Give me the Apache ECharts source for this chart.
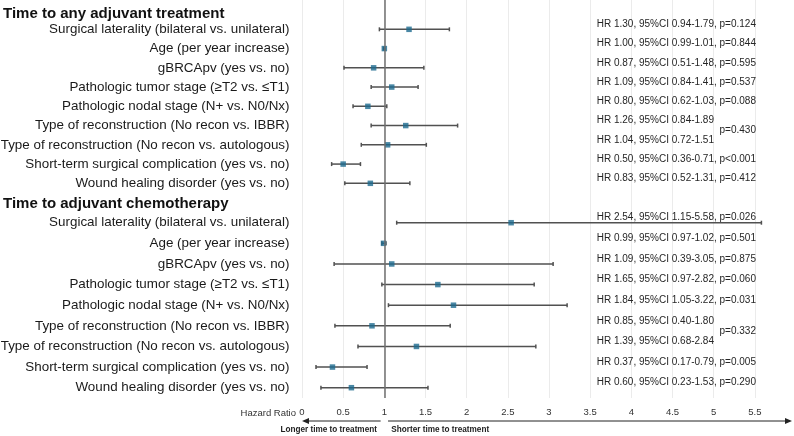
<!DOCTYPE html>
<html><head><meta charset="utf-8">
<script src="https://cdn.jsdelivr.net/npm/echarts@6/dist/echarts.min.js"></script>
<style>html,body{margin:0;padding:0;background:#fff}#c{width:794px;height:436px}</style>
</head><body><div id="c"></div>
<script>
const sectionTitles = ['Time to any adjuvant treatment', 'Time to adjuvant chemotherapy'];
const rowLabels = [
  'Surgical laterality (bilateral vs. unilateral)',
  'Age (per year increase)',
  'gBRCApv (yes vs. no)',
  'Pathologic tumor stage (\u2265T2 vs. \u2264T1)',
  'Pathologic nodal stage (N+ vs. N0/Nx)',
  'Type of reconstruction (No recon vs. IBBR)',
  'Type of reconstruction (No recon vs. autologous)',
  'Short-term surgical complication (yes vs. no)',
  'Wound healing disorder (yes vs. no)'
];
// Time to any adjuvant treatment
const anyHR = [1.30, 1.00, 0.87, 1.09, 0.80, 1.26, 1.04, 0.50, 0.83];
const anyLo = [0.94, 0.99, 0.51, 0.84, 0.62, 0.84, 0.72, 0.36, 0.52];
const anyHi = [1.79, 1.01, 1.48, 1.41, 1.03, 1.89, 1.51, 0.71, 1.31];
const anyP  = ['0.124', '0.844', '0.595', '0.537', '0.088', '', '', '<0.001', '0.412'];
const anyMergedP = '0.430';
// Time to adjuvant chemotherapy
const chemoHR = [2.54, 0.99, 1.09, 1.65, 1.84, 0.85, 1.39, 0.37, 0.60];
const chemoLo = [1.15, 0.97, 0.39, 0.97, 1.05, 0.40, 0.68, 0.17, 0.23];
const chemoHi = [5.58, 1.02, 3.05, 2.82, 3.22, 1.80, 2.84, 0.79, 1.53];
const chemoP  = ['0.026', '0.501', '0.875', '0.060', '0.031', '', '', '0.005', '0.290'];
const chemoMergedP = '0.332';
const mergedRows = [5, 6];
const xAxisTitle = 'Hazard Ratio';
const leftArrowText = 'Longer time to treatment';
const rightArrowText = 'Shorter time to treatment';

const FONT = "'Liberation Sans', Arial, Helvetica, sans-serif";
const X0 = 302, XW = 494;
const TXT_MARGIN = -294.7;

function fmt(n) { return n.toFixed(2); }
function pStr(p) { return p.charAt(0) === '<' ? 'p' + p : 'p=' + p; }
function hrText(hr, lo, hi, p) {
  return hr.map((v, i) => 'HR ' + fmt(v) + ', 95%CI ' + fmt(lo[i]) + '-' + fmt(hi[i]) + (p[i] ? ', ' + pStr(p[i]) : ''));
}

function renderErr(params, api) {
  const a = api.coord([api.value(0), api.value(2)]);
  const b = api.coord([api.value(1), api.value(2)]);
  const h = 2;
  const style = { stroke: '#515151', lineWidth: 1.5 };
  return { type: 'group', children: [
    { type: 'line', shape: { x1: a[0], y1: a[1], x2: b[0], y2: b[1] }, style },
    { type: 'line', shape: { x1: a[0], y1: a[1] - h, x2: a[0], y2: a[1] + h }, style },
    { type: 'line', shape: { x1: b[0], y1: b[1] - h, x2: b[0], y2: b[1] + h }, style }
  ]};
}

const groups = [
  { hr: anyHR, lo: anyLo, hi: anyHi, p: anyP, top: 19.7, height: 173.25 },
  { hr: chemoHR, lo: chemoLo, hi: chemoHi, p: chemoP, top: 212.4, height: 185.6 }
];

const grid = [{ left: X0, width: XW, top: 0, height: 398, outerBoundsMode: 'none', containLabel: false }];
const xAxis = [{
  gridIndex: 0, type: 'value', min: 0, max: 6, interval: 0.5,
  axisLine: { show: false }, axisTick: { show: false },
  splitLine: { show: true, lineStyle: { color: '#ebebeb', width: 1 } },
  axisLabel: { fontSize: 9.5, color: '#333', fontFamily: FONT, margin: 9,
    formatter: v => (v >= 6 ? '' : String(v)) }
}];
const yAxis = [{ gridIndex: 0, type: 'value', min: 0, max: 1, show: false }];
const series = [{
  type: 'line', xAxisIndex: 0, yAxisIndex: 0, data: [], silent: true,
  markLine: { silent: true, symbol: ['none', 'none'], label: { show: false },
    lineStyle: { color: '#6f6f6f', width: 1.5, type: 'solid' }, data: [{ xAxis: 1 }] }
}];

groups.forEach((g, k) => {
  const gi = k + 1;
  grid.push({ left: X0, width: XW, top: g.top, height: g.height, outerBoundsMode: 'none', containLabel: false });
  xAxis.push({ gridIndex: gi, type: 'value', min: 0, max: 6, interval: 0.5, show: false });
  const yl = yAxis.length;
  yAxis.push({
    gridIndex: gi, type: 'category', data: rowLabels, inverse: true,
    axisLine: { show: false }, axisTick: { show: false }, splitLine: { show: false },
    axisLabel: { interval: 0, fontSize: 13.4, color: '#1a1a1a', fontFamily: FONT, margin: 12.5 }
  });
  yAxis.push({
    gridIndex: gi, type: 'category', data: hrText(g.hr, g.lo, g.hi, g.p), inverse: true, position: 'left',
    axisLine: { show: false }, axisTick: { show: false }, splitLine: { show: false },
    axisLabel: { interval: 0, fontSize: 10, color: '#262626', fontFamily: FONT, margin: TXT_MARGIN,
      align: 'left', verticalAlign: 'bottom' }
  });
  series.push({
    type: 'custom', xAxisIndex: gi, yAxisIndex: yl, renderItem: renderErr,
    encode: { x: [0, 1], y: 2 }, z: 3,
    data: g.lo.map((v, i) => [v, g.hi[i], i])
  });
  series.push({
    type: 'scatter', xAxisIndex: gi, yAxisIndex: yl, symbol: 'rect', symbolSize: 5.5, z: 4,
    itemStyle: { color: '#1d6a8e' },
    data: g.hr.map((v, i) => [v, i])
  });
});

const chart = echarts.init(document.getElementById('c'), null, { renderer: 'canvas' });
chart.setOption({ animation: false, backgroundColor: '#fff', grid, xAxis, yAxis, series });

// Annotations positioned through the axes
const px = v => chart.convertToPixel({ xAxisIndex: 0 }, v);
const ax = 421;
const graphics = [
  { type: 'text', left: 3, top: 6, style: { text: sectionTitles[0], font: 'bold 15px ' + FONT, fill: '#111' } },
  { type: 'text', left: 3, top: 196, style: { text: sectionTitles[1], font: 'bold 15px ' + FONT, fill: '#111' } },
  { type: 'text', x: px(0) - 6, y: 413, style: { text: xAxisTitle, font: '9.5px ' + FONT, fill: '#333', align: 'right', verticalAlign: 'middle' } },
  { type: 'line', shape: { x1: px(0.955), y1: ax, x2: px(0) + 4, y2: ax }, style: { stroke: '#222', lineWidth: 1 } },
  { type: 'polygon', shape: { points: [[px(0), ax], [px(0) + 7, ax - 3], [px(0) + 7, ax + 3]] }, style: { fill: '#222' } },
  { type: 'line', shape: { x1: px(1.045), y1: ax, x2: 786, y2: ax }, style: { stroke: '#222', lineWidth: 1 } },
  { type: 'polygon', shape: { points: [[792, ax], [785, ax - 3], [785, ax + 3]] }, style: { fill: '#222' } },
  { type: 'text', x: px(0.91), y: 430, style: { text: leftArrowText, font: 'bold 8.2px ' + FONT, fill: '#222', align: 'right', verticalAlign: 'middle' } },
  { type: 'text', x: px(1.085), y: 430, style: { text: rightArrowText, font: 'bold 8.2px ' + FONT, fill: '#222', align: 'left', verticalAlign: 'middle' } }
];
// merged p-values for the reconstruction rows
const ctx = document.createElement('canvas').getContext('2d');
ctx.font = '10px ' + FONT;
[[anyMergedP, 1, anyHR, anyLo, anyHi], [chemoMergedP, 3, chemoHR, chemoLo, chemoHi]].forEach(([p, yIdx, hr, lo, hi]) => {
  const y1 = chart.convertToPixel({ yAxisIndex: yIdx }, mergedRows[0]);
  const y2 = chart.convertToPixel({ yAxisIndex: yIdx }, mergedRows[1]);
  const pre = hrText(hr, lo, hi, ['', '', '', '', '', '', '', '', ''])[mergedRows[0]] + ', ';
  const x = X0 - TXT_MARGIN + ctx.measureText(pre).width;
  graphics.push({ type: 'text', x: x, y: (y1 + y2) / 2, style: { text: pStr(p), font: '10px ' + FONT, fill: '#262626', align: 'left', verticalAlign: 'bottom' } });
});
chart.setOption({ graphic: graphics });
</script></body></html>
